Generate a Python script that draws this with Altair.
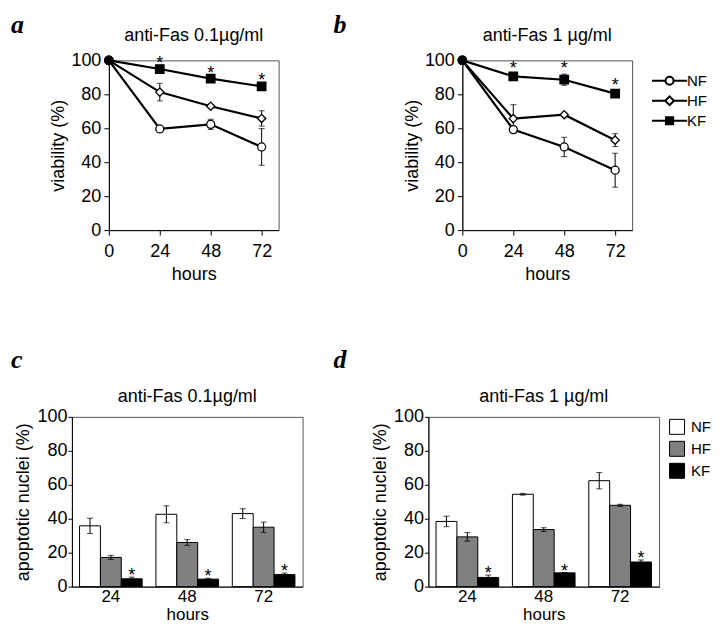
import altair as alt
import pandas as pd

FONT = "Liberation Sans"
SERIF = "Liberation Serif"

series = ["NF", "HF", "KF"]
hours_line = [0, 24, 48, 72]
hours_bar = ["24", "48", "72"]
y_ticks = [0, 20, 40, 60, 80, 100]

# panel a: viability, anti-Fas 0.1 ug/ml
a_vals = {"NF": [100, 59.6, 62.3, 49.0], "HF": [100, 81.3, 73.0, 65.8], "KF": [100, 94.9, 89.2, 84.7]}
a_errs = {"NF": [0, 0, 3.0, 10.8], "HF": [0, 5.2, 0, 4.5], "KF": [0, 0, 0, 0]}
# panel b: viability, anti-Fas 1 ug/ml
b_vals = {"NF": [100, 59.2, 49.0, 35.3], "HF": [100, 65.7, 68.0, 53.0], "KF": [100, 90.6, 88.6, 80.4]}
b_errs = {"NF": [0, 0, 5.7, 10.0], "HF": [0, 8.2, 0, 3.8], "KF": [0, 1.5, 3.3, 1.8]}
# panel c: apoptotic nuclei, anti-Fas 0.1 ug/ml
c_vals = {"NF": [35.8, 42.6, 43.0], "HF": [17.2, 26.0, 35.0], "KF": [4.6, 4.4, 7.1]}
c_errs = {"NF": [4.5, 5.0, 2.9], "HF": [1.2, 1.7, 3.0], "KF": [1.0, 0.5, 0.9]}
# panel d: apoptotic nuclei, anti-Fas 1 ug/ml
d_vals = {"NF": [38.4, 54.4, 62.4], "HF": [29.3, 33.6, 47.9], "KF": [5.4, 8.1, 14.5]}
d_errs = {"NF": [3.1, 0.5, 4.8], "HF": [2.5, 1.1, 0.6], "KF": [1.4, 0.2, 1.2]}

line_shapes = ["circle", "diamond", "square"]
line_fills = ["white", "white", "black"]
bar_fills = ["white", "#808080", "black"]
legend_paths = [
    "M-4.4,0H-1M1,0H4.4M1,0A1,1,0,1,1,-1,0A1,1,0,1,1,1,0Z",
    "M-4.4,0H-1.1M1.1,0H4.4M0,-1.1L1.1,0L0,1.1L-1.1,0Z",
    "M-4.4,0H-0.9M0.9,0H4.4M-0.9,-0.9H0.9V0.9H-0.9Z",
]

INDEP = dict(fill="independent", shape="independent", size="independent", stroke="independent")


def long_df(xs, vals, errs):
    rows = []
    for s in series:
        for h, v, e in zip(xs, vals[s], errs[s]):
            rows.append(dict(hours=h, series=s, value=v, lo=v - e, hi=v + e, err=e))
    return pd.DataFrame(rows)


def text_layer(txt, x, y, **kw):
    return alt.Chart(pd.DataFrame({"t": [txt]})).mark_text(**kw).encode(
        text="t:N", x=alt.value(x), y=alt.value(y)
    )


def letter_layer(letter, dx, dy):
    return text_layer(letter, dx, dy, font=SERIF, fontSize=26, fontWeight="bold",
                      fontStyle="italic", align="left", baseline="alphabetic", color="black")


def line_panel(df, letter, title, letter_dx, with_legend):
    W, H = 170, 170
    xenc = alt.X("hours:Q", scale=alt.Scale(domain=[0, 80], nice=False),
                 axis=alt.Axis(values=hours_line, tickCount=10, title="hours", tickSize=5,
                               labelPadding=7, titlePadding=5, labelFlush=False,
                               labelOverlap=False))
    yenc = alt.Y("value:Q", scale=alt.Scale(domain=[0, 100], nice=False),
                 axis=alt.Axis(values=y_ticks, tickCount=10, title="viability (%)", tickSize=5,
                               labelPadding=3, titlePadding=3, labelOverlap=False,
                               labelFlush=False))
    base = alt.Chart(df)
    lines = base.mark_line(color="black", strokeWidth=2.2).encode(
        x=xenc, y=yenc, detail="series:N", order="hours:Q")
    errb = base.transform_filter("datum.err > 0")
    rules = errb.mark_rule(color="black", strokeWidth=1).encode(x="hours:Q", y="lo:Q", y2="hi:Q")
    cap_lo = errb.mark_tick(orient="horizontal", size=6, thickness=1, color="black").encode(
        x="hours:Q", y="lo:Q")
    cap_hi = errb.mark_tick(orient="horizontal", size=6, thickness=1, color="black").encode(
        x="hours:Q", y="hi:Q")
    pts = base.mark_point(filled=True, stroke="black", strokeWidth=1.3, opacity=1).encode(
        x="hours:Q", y="value:Q",
        shape=alt.condition("datum.hours == 0", alt.value("circle"),
                            alt.Shape("series:N", scale=alt.Scale(domain=series, range=line_shapes),
                                      legend=None)),
        fill=alt.condition("datum.hours == 0", alt.value("black"),
                           alt.Fill("series:N", scale=alt.Scale(domain=series, range=line_fills),
                                    legend=None)),
        size=alt.Size("series:N", scale=alt.Scale(domain=series, range=[64, 72, 50]), legend=None),
    )
    stars = base.transform_filter("datum.series == 'KF' && datum.hours > 0").mark_text(
        text="*", font=FONT, fontSize=18, baseline="alphabetic", dy=0, color="black").encode(
        x="hours:Q", y="hi:Q")
    layers = [letter_layer(letter, letter_dx, -27),
              text_layer(title, W / 2, -24, font=FONT, fontSize=18, align="center",
                         baseline="middle", color="black"),
              lines, rules, cap_lo, cap_hi, pts, stars]
    if with_legend:
        leg = alt.Legend(title=None, orient="none", legendX=200, legendY=13, padding=0,
                         symbolSize=64, symbolStrokeWidth=2, symbolOpacity=1,
                         labelFont=FONT, labelFontSize=15, labelOffset=10,
                         rowPadding=3, labelColor="black")
        leg_df = pd.DataFrame({"key": series})
        leg_layer = alt.Chart(leg_df).mark_point(filled=True, strokeWidth=2, opacity=0).encode(
            shape=alt.Shape("key:N", scale=alt.Scale(domain=series, range=legend_paths), legend=leg),
            fill=alt.Fill("key:N", scale=alt.Scale(domain=series, range=line_fills), legend=leg),
            stroke=alt.Stroke("key:N", scale=alt.Scale(domain=series, range=["black"] * 3),
                              legend=leg),
        )
        layers.append(leg_layer)
    return alt.layer(*layers).resolve_scale(**INDEP).properties(width=W, height=H)


def bar_panel(df, letter, title, letter_dx, with_legend):
    W, H = 231, 170
    xenc = alt.X("hours:N", sort=hours_bar, scale=alt.Scale(paddingInner=0.18, paddingOuter=0.1),
                 axis=alt.Axis(title="hours", labelAngle=0, ticks=False, labelPadding=2,
                               titlePadding=2, labelFontSize=17, titleFontSize=17))
    xoff = alt.XOffset("series:N", sort=series,
                       scale=alt.Scale(domain=series, paddingInner=0, paddingOuter=0))
    yenc = alt.Y("value:Q", scale=alt.Scale(domain=[0, 100], nice=False),
                 axis=alt.Axis(values=y_ticks, tickCount=10, title="apoptotic nuclei (%)",
                               tickSize=4, labelPadding=1, titlePadding=4, labelOverlap=False,
                               labelFlush=False))
    if with_legend:
        leg = alt.Legend(title=None, orient="none", legendX=241, legendY=2, padding=0,
                         symbolType="square", symbolSize=225, symbolStrokeColor="black",
                         symbolStrokeWidth=1, labelFont=FONT, labelFontSize=15, labelOffset=6,
                         rowPadding=2, labelColor="black")
    else:
        leg = None
    base = alt.Chart(df)
    bars = base.mark_bar(stroke="black", strokeWidth=1).encode(
        x=xenc, xOffset=xoff, y=yenc,
        fill=alt.Fill("series:N", scale=alt.Scale(domain=series, range=bar_fills), legend=leg))
    xs = alt.X("hours:N", sort=hours_bar)
    rules = base.mark_rule(color="black", strokeWidth=1).encode(
        x=xs, xOffset=xoff, y="lo:Q", y2="hi:Q")
    cap_lo = base.mark_tick(orient="horizontal", size=6, thickness=1, color="black").encode(
        x=xs, xOffset=xoff, y="lo:Q")
    cap_hi = base.mark_tick(orient="horizontal", size=6, thickness=1, color="black").encode(
        x=xs, xOffset=xoff, y="hi:Q")
    stars = base.transform_filter("datum.series == 'KF'").mark_text(
        text="*", font=FONT, fontSize=18, baseline="alphabetic", dy=4, color="black").encode(
        x=xs, xOffset=xoff, y="hi:Q")
    layers = [letter_layer(letter, letter_dx, -49),
              text_layer(title, W / 2, -20, font=FONT, fontSize=18, align="center",
                         baseline="middle", color="black"),
              bars, rules, cap_lo, cap_hi, stars]
    return alt.layer(*layers).properties(width=W, height=H)


pa = line_panel(long_df(hours_line, a_vals, a_errs), "a", "anti-Fas 0.1\u00b5g/ml", -98, False)
pb = line_panel(long_df(hours_line, b_vals, b_errs), "b", "anti-Fas 1 \u00b5g/ml", -129, True)
pc = bar_panel(long_df(hours_bar, c_vals, c_errs), "c", "anti-Fas 0.1\u00b5g/ml", -61, False)
pd_ = bar_panel(long_df(hours_bar, d_vals, d_errs), "d", "anti-Fas 1 \u00b5g/ml", -95, True)

# invisible anchor so that panel a sits further right than panel c
anchor = alt.Chart(pd.DataFrame({"t": [0]})).mark_rule(opacity=0).encode(
    x=alt.value(0), y=alt.value(0), y2=alt.value(1)
).properties(width=1, height=1, view=alt.ViewBackground(stroke=None))

inner1 = alt.hconcat(anchor, pa, spacing=-63).resolve_scale(**INDEP)
row1 = alt.hconcat(inner1, pb, spacing=53).resolve_scale(**INDEP)
row2 = alt.hconcat(pc, pd_, spacing=29).resolve_scale(**INDEP)

chart = alt.vconcat(row1, row2, spacing=62).resolve_scale(**INDEP).properties(
    padding={"left": 2, "top": 3, "right": 0, "bottom": 0}
).configure_view(stroke="#555555", strokeWidth=1).configure_axis(
    labelFont=FONT, titleFont=FONT, labelFontSize=18, titleFontSize=18,
    titleFontWeight="normal", labelColor="black", titleColor="black",
    domainColor="black", tickColor="black", grid=False, domainWidth=1, tickWidth=1,
    labelOverlap=False,
)

chart.save("out.html", embed_options={"renderer": "svg", "actions": False})
